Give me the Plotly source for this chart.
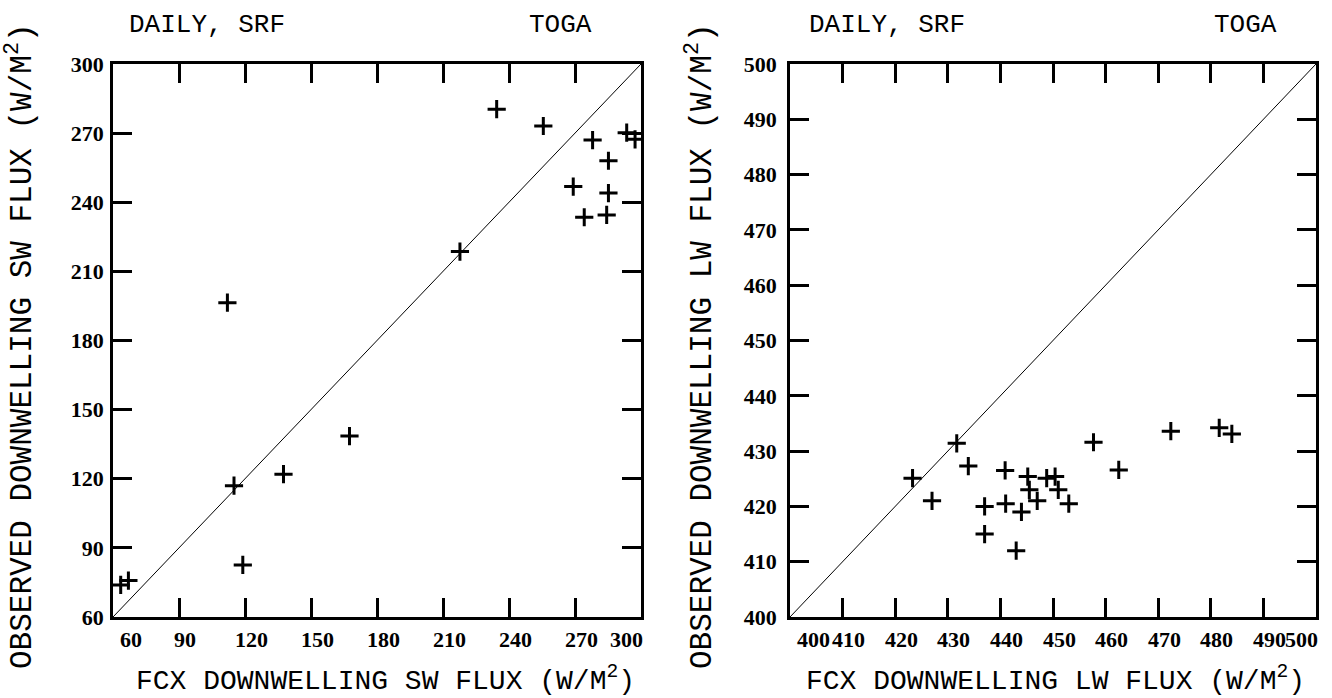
import plotly.graph_objects as go

# ---- data ----
sw_fcx = [63.5, 67.0, 119.0, 115.0, 137.5, 167.5, 112.0, 217.7, 234.4, 255.6, 278.0, 293.5, 297.3, 285.2, 269.2, 285.2, 274.2, 284.4]
sw_obs = [73.9, 75.8, 82.6, 117.0, 122.0, 138.5, 196.4, 218.6, 280.4, 273.1, 267.0, 270.2, 267.3, 258.0, 246.8, 244.0, 233.5, 234.5]

lw_fcx = [423.3, 427.0, 431.7, 433.9, 437.0, 437.0, 440.9, 441.0, 443.0, 444.0, 445.2, 445.5, 447.0, 448.8, 450.4, 451.0, 453.0, 457.7, 462.5, 472.4, 481.6, 484.0]
lw_obs = [425.1, 421.0, 431.4, 427.3, 420.0, 415.0, 426.5, 420.5, 412.0, 419.0, 425.4, 423.0, 421.0, 425.1, 425.4, 423.0, 420.5, 431.6, 426.6, 433.6, 434.2, 433.1]

sw_range = [60, 300]
lw_range = [400, 500]
sw_ticks = [60, 90, 120, 150, 180, 210, 240, 270, 300]
lw_ticks = [400, 410, 420, 430, 440, 450, 460, 470, 480, 490, 500]

title_left = "DAILY, SRF"
title_right = "TOGA"
sw_xtitle = "FCX DOWNWELLING SW FLUX (W/M<sup>2</sup>)"
sw_ytitle = "OBSERVED DOWNWELLING SW FLUX (W/M<sup>2</sup>)"
lw_xtitle = "FCX DOWNWELLING LW FLUX (W/M<sup>2</sup>)"
lw_ytitle = "OBSERVED DOWNWELLING LW FLUX (W/M<sup>2</sup>)"

MONO = "Liberation Mono, Courier New, monospace"
SERIF = "Liberation Serif, Times New Roman, serif"
TICKFONT = dict(family=SERIF, size=22, color="black", weight="bold")

fig = go.Figure()

marker = dict(symbol="cross-thin", size=13, color="black", line=dict(color="black", width=3))

fig.add_trace(go.Scatter(x=sw_range, y=sw_range, mode="lines", line=dict(color="black", width=1),
                         xaxis="x", yaxis="y", showlegend=False, hoverinfo="skip"))
fig.add_trace(go.Scatter(x=sw_fcx, y=sw_obs, mode="markers", marker=marker,
                         xaxis="x", yaxis="y", showlegend=False))
fig.add_trace(go.Scatter(x=lw_range, y=lw_range, mode="lines", line=dict(color="black", width=1),
                         xaxis="x2", yaxis="y2", showlegend=False, hoverinfo="skip"))
fig.add_trace(go.Scatter(x=lw_fcx, y=lw_obs, mode="markers", marker=marker,
                         xaxis="x2", yaxis="y2", showlegend=False))

axis_common = dict(showgrid=False, zeroline=False, showline=True, linecolor="black", linewidth=2.5,
                   mirror="ticks", ticks="inside", ticklen=19, tickwidth=2.5, tickcolor="black")

left_dom = [0, 528 / 1203]
right_dom = [677 / 1203, 1]

fig.update_layout(
    width=1332, height=698,
    margin=dict(l=113, r=16, t=64, b=81),
    paper_bgcolor="white", plot_bgcolor="white",
    xaxis=dict(domain=left_dom, range=sw_range, tickvals=sw_ticks, showticklabels=False, **axis_common),
    yaxis=dict(domain=[0, 1], range=sw_range, tickvals=sw_ticks, tickfont=TICKFONT,
               ticklabelstandoff=2, **axis_common),
    xaxis2=dict(domain=right_dom, range=lw_range, tickvals=lw_ticks, showticklabels=False,
                anchor="y2", **axis_common),
    yaxis2=dict(domain=[0, 1], range=lw_range, tickvals=lw_ticks, anchor="x2", tickfont=TICKFONT,
                ticklabelstandoff=6, **axis_common),
)

ann = []
# x tick labels via annotations, following the original's label placement
for xref, yref, ticks in (("x", "y domain", sw_ticks), ("x2", "y2 domain", lw_ticks)):
    for i, t in enumerate(ticks):
        if i == 0:
            xa, xs = "left", 5
        elif i == len(ticks) - 1:
            xa, xs = "right", 4
        else:
            xa, xs = "center", 6
        ann.append(dict(x=t, y=0, xref=xref, yref=yref, text=str(t), showarrow=False,
                        xanchor=xa, yanchor="top", xshift=xs, yshift=-8, font=TICKFONT))

# axis titles
XT = dict(family=MONO, size=28, color="black")
YT = dict(family=MONO, size=31, color="black")
ann.append(dict(x=0.5, y=-0.112, xref="x domain", yref="paper", text=sw_xtitle, showarrow=False,
                xanchor="center", yanchor="middle", xshift=8, font=XT))
ann.append(dict(x=0.5, y=-0.112, xref="x2 domain", yref="paper", text=lw_xtitle, showarrow=False,
                xanchor="center", yanchor="middle", xshift=2, font=XT))
ann.append(dict(x=(20 - 113) / 1203, y=0.49, xref="paper", yref="paper", text=sw_ytitle, showarrow=False,
                textangle=-90, xanchor="center", yanchor="middle", font=YT))
ann.append(dict(x=(700 - 113) / 1203, y=0.49, xref="paper", yref="paper", text=lw_ytitle, showarrow=False,
                textangle=-90, xanchor="center", yanchor="middle", font=YT))

# panel headings
for px, txt in ((207, title_left), (560, title_right), (887, title_left), (1245, title_right)):
    ann.append(dict(x=(px - 113) / 1203, y=(617 - 25) / 553, xref="paper", yref="paper", text=txt,
                    showarrow=False, xanchor="center", yanchor="middle",
                    font=dict(family=MONO, size=26, color="black")))

fig.update_layout(annotations=ann)

fig.write_html("out.html")
